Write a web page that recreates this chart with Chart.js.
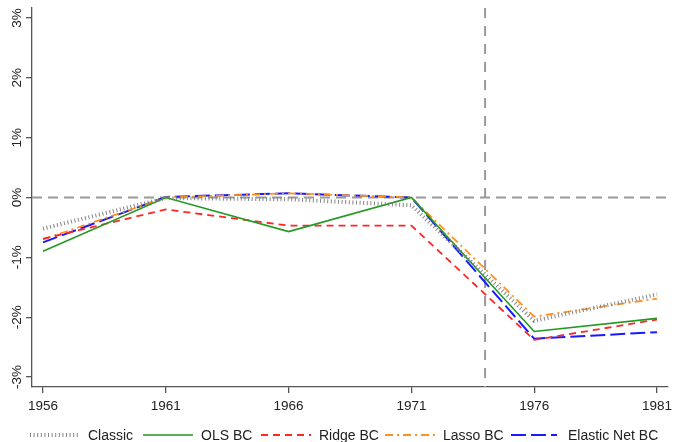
<!DOCTYPE html>
<html>
<head>
<meta charset="utf-8">
<script src="https://cdn.jsdelivr.net/npm/chart.js@4/dist/chart.umd.min.js"></script>
<style>
  html, body { margin: 0; padding: 0; background: #fff; }
  #wrap { width: 675px; height: 442px; }
</style>
</head>
<body>
<div id="wrap"><canvas id="myChart" width="675" height="442"></canvas></div>
<script>
// data (percent)
const years = [1956, 1961, 1966, 1971, 1976, 1981];
const yTicks = [-3, -2, -1, 0, 1, 2, 3];
const classic = [-0.52, -0.01, -0.03, -0.13, -2.06, -1.62];
const olsBC = [-0.90, 0.00, -0.57, 0.00, -2.24, -2.02];
const ridgeBC = [-0.69, -0.20, -0.47, -0.47, -2.38, -2.04];
const lassoBC = [-0.70, 0.00, 0.07, 0.00, -1.99, -1.69];
const elasticBC = [-0.75, 0.01, 0.07, 0.00, -2.36, -2.25];
const breakYear = 1974;

const FONT = '"Liberation Sans", Arial, sans-serif';
const AXIS = '#555';

const pts = (vals) => years.map((x, i) => ({x: x, y: vals[i]}));

const series = [
  {label: 'Classic', data: classic, color: 'rgba(125,125,125,0.95)', width: 4, dash: [1, 2.6]},
  {label: 'OLS BC', data: olsBC, color: '#229922', width: 1.6, dash: []},
  {label: 'Ridge BC', data: ridgeBC, color: '#ff2626', width: 1.8, dash: [7, 5]},
  {label: 'Lasso BC', data: lassoBC, color: '#ff9020', width: 1.8, dash: [8, 4, 2, 4]},
  {label: 'Elastic Net BC', data: elasticBC, color: '#1a1aff', width: 2, dash: [15, 5]}
];

// legend item positions (sample start, text start)
const legendPos = [[30, 88], [143, 201], [261, 319], [385, 443], [511, 568]];

const refLines = {
  id: 'refLines',
  beforeDatasetsDraw(chart) {
    const ctx = chart.ctx, a = chart.chartArea;
    const xs = chart.scales.x, ys = chart.scales.y;
    ctx.save();
    ctx.strokeStyle = '#999';
    ctx.lineWidth = 2;
    ctx.setLineDash([10, 6]);
    const y0 = ys.getPixelForValue(0);
    ctx.beginPath(); ctx.moveTo(a.left, y0); ctx.lineTo(a.right, y0); ctx.stroke();
    const xb = xs.getPixelForValue(breakYear);
    ctx.setLineDash([10, 8]);
    ctx.beginPath(); ctx.moveTo(xb, a.top); ctx.lineTo(xb, a.bottom); ctx.stroke();
    ctx.restore();
  },
  afterDraw(chart) {
    const ctx = chart.ctx, ys = chart.scales.y;
    ctx.save();
    // rotated y tick labels
    ctx.fillStyle = '#222';
    ctx.font = '13.5px ' + FONT;
    ctx.textAlign = 'center';
    ctx.textBaseline = 'middle';
    yTicks.forEach(v => {
      const y = ys.getPixelForValue(v);
      ctx.save();
      ctx.translate(17, y);
      ctx.rotate(-Math.PI / 2);
      ctx.fillText(v + '%', 0, 0);
      ctx.restore();
    });
    // legend
    const ly = 435;
    ctx.font = '14px ' + FONT;
    ctx.textAlign = 'left';
    series.forEach((s, i) => {
      const [sx, tx] = legendPos[i];
      ctx.save();
      ctx.strokeStyle = s.color;
      ctx.lineWidth = s.width;
      ctx.setLineDash(s.dash);
      ctx.beginPath(); ctx.moveTo(sx, ly); ctx.lineTo(sx + (i === 4 ? 46 : 50), ly); ctx.stroke();
      ctx.restore();
      ctx.fillStyle = '#222';
      ctx.fillText(s.label, tx, ly + 1);
    });
    ctx.restore();
  }
};

new Chart('myChart', {
  type: 'line',
  data: {
    datasets: series.map(s => ({
      label: s.label,
      data: pts(s.data),
      borderColor: s.color,
      backgroundColor: s.color,
      borderWidth: s.width,
      borderDash: s.dash,
      pointRadius: 0,
      tension: 0,
      fill: false
    }))
  },
  options: {
    responsive: false,
    animation: false,
    devicePixelRatio: 1,
    layout: {padding: {top: 8, right: 7, left: 0, bottom: 0}},
    plugins: {legend: {display: false}, tooltip: {enabled: false}},
    scales: {
      x: {
        type: 'linear',
        min: 1955.552,
        max: 1981.448,
        afterBuildTicks: (s) => { s.ticks = years.map(v => ({value: v})); },
        afterFit: (s) => { s.height = 55; s.paddingLeft = 0; s.paddingRight = 0; },
        border: {display: true, color: AXIS, width: 1.3},
        grid: {display: true, drawOnChartArea: false, drawTicks: true, tickLength: 6, color: AXIS, lineWidth: 1.3},
        ticks: {
          autoSkip: false, maxRotation: 0, minRotation: 0, padding: 5,
          color: '#222', font: {family: FONT, size: 13.5},
          callback: (v) => String(v)
        }
      },
      y: {
        min: -3.167,
        max: 3.167,
        afterBuildTicks: (s) => { s.ticks = yTicks.map(v => ({value: v})); },
        afterFit: (s) => { s.width = 32; s.paddingTop = 0; s.paddingBottom = 0; },
        border: {display: true, color: AXIS, width: 1.3},
        grid: {display: true, drawOnChartArea: false, drawTicks: true, tickLength: 6, color: AXIS, lineWidth: 1.3},
        ticks: {display: false}
      }
    }
  },
  plugins: [refLines]
});
</script>
</body>
</html>
